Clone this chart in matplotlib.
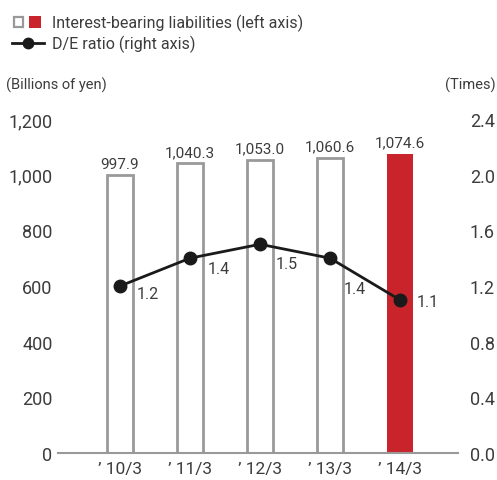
import matplotlib.pyplot as plt
from matplotlib.patches import Rectangle
from matplotlib.lines import Line2D
import numpy as np

plt.rcParams['font.family'] = ['Roboto', 'DejaVu Sans']

# data
periods = ["\u2019 10/3", "\u2019 11/3", "\u2019 12/3", "\u2019 13/3", "\u2019 14/3"]
liabilities = [997.9, 1040.3, 1053.0, 1060.6, 1074.6]
de_ratio = [1.2, 1.4, 1.5, 1.4, 1.1]

red = '#c9242c'
grey = '#999999'
txt = '#3c3c3c'

fig = plt.figure(figsize=(4.97, 4.81), dpi=100)
ax = fig.add_axes([0.1167, 0.0561, 0.805, 0.6944])
ax2 = ax.twinx()

x = np.arange(len(periods))
w = 0.36
for i, v in enumerate(liabilities):
    if i == len(liabilities) - 1:
        ax.bar(x[i], v, width=w, color=red, edgecolor=red, linewidth=0, zorder=2)
    else:
        ax.bar(x[i], v, width=w, facecolor='white', edgecolor=grey, linewidth=2, zorder=2)
    ax.annotate(f"{v:,.1f}", (x[i], v), xytext=(0, 3), textcoords='offset points',
                ha='center', va='bottom', fontsize=11, color=txt)

ax.set_xlim(-0.886, 4.83)
ax.set_ylim(0, 1200)
ax.set_yticks(np.arange(0, 1201, 200))
ax.set_yticklabels([f"{t:,}" for t in range(0, 1201, 200)])
ax2.set_ylim(0, 2.4)
ax2.set_yticks(np.arange(0, 2.41, 0.4))
ax2.set_yticklabels([f"{t:.1f}" for t in np.arange(0, 2.41, 0.4)])

ax2.plot(x, de_ratio, color='#1a1a1a', linewidth=2, marker='o', markersize=9, zorder=3)
# label offsets (px) for line values
offs = [(17, -7), (18, -10), (16, -19), (14, -30), (17, -2)]
for i, v in enumerate(de_ratio):
    ax2.annotate(f"{v:.1f}", (x[i], v), xytext=(offs[i][0] * 0.72, offs[i][1] * 0.72),
                 textcoords='offset points', ha='left', va='center', fontsize=11.5, color=txt)

for a in (ax, ax2):
    for s in a.spines.values():
        s.set_visible(False)
    a.tick_params(length=0, labelsize=13, colors=txt)
ax.spines['bottom'].set_visible(True)
ax.spines['bottom'].set_color(grey)
ax.spines['bottom'].set_linewidth(1.5)
ax.tick_params(axis='y', pad=4)
ax2.tick_params(axis='y', pad=8.5)
ax.set_xticks(x)
ax.set_xticklabels(periods, fontsize=12.5)
ax.tick_params(axis='x', pad=6)

fig.text(0.012, 0.823, "(Billions of yen)", fontsize=10.5, color=txt, va='center')
fig.text(0.998, 0.823, "(Times)", fontsize=10.5, color=txt, va='center', ha='right')

# legend
fig.add_artist(Rectangle((13.5 / 497, 1 - 27.5 / 481), 9.5 / 497, 10 / 481, transform=fig.transFigure,
                         facecolor='white', edgecolor=grey, linewidth=1.6))
fig.add_artist(Rectangle((29 / 497, 1 - 29 / 481), 12 / 497, 12 / 481, transform=fig.transFigure,
                         facecolor=red, edgecolor='none'))
fig.add_artist(Line2D([12 / 497, 44 / 497], [1 - 44 / 481] * 2, transform=fig.transFigure,
                      color='#1a1a1a', linewidth=2, marker=None))
fig.add_artist(Line2D([28 / 497], [1 - 44 / 481], transform=fig.transFigure,
                      color='#1a1a1a', marker='o', markersize=7.5))
fig.text(52 / 497, 1 - 23 / 481, "Interest-bearing liabilities (left axis)", fontsize=11.5,
         color=txt, va='center')
fig.text(52 / 497, 1 - 44 / 481, "D/E ratio (right axis)", fontsize=11.5, color=txt, va='center')

fig.savefig('out.png', dpi=100)
